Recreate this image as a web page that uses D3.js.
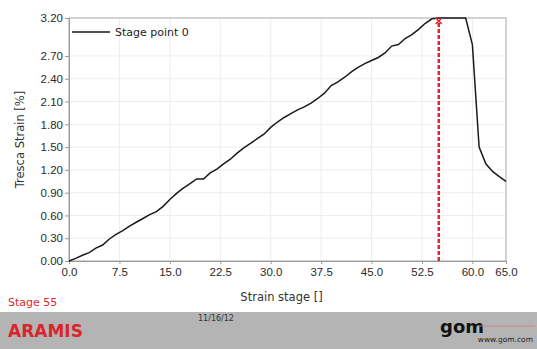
<!DOCTYPE html>
<html>
<head>
<meta charset="utf-8">
<script src="https://cdn.jsdelivr.net/npm/d3@7"></script>
<style>
  body { margin: 0; background: #fff; }
  svg { display: block; font-family: "DejaVu Sans", sans-serif; }
</style>
</head>
<body>
<div id="chart"></div>
<script>
// strain stage vs Tresca strain
const stages = d3.range(0, 66);
const tresca = [
  0.00, 0.035, 0.075, 0.11, 0.17, 0.21, 0.29, 0.35, 0.40, 0.46,
  0.51, 0.56, 0.61, 0.65, 0.72, 0.81, 0.89, 0.96, 1.02, 1.08,
  1.08, 1.16, 1.21, 1.28, 1.34, 1.42, 1.49, 1.55, 1.61, 1.67,
  1.76, 1.83, 1.89, 1.94, 1.99, 2.03, 2.08, 2.14, 2.21, 2.31,
  2.36, 2.42, 2.49, 2.55, 2.60, 2.64, 2.68, 2.74, 2.83, 2.85,
  2.93, 2.98, 3.05, 3.13, 3.19, 3.20, 3.20, 3.20, 3.20, 3.20,
  2.85, 1.50, 1.28, 1.18, 1.11, 1.05
];
const xTicks = [0, 7.5, 15, 22.5, 30, 37.5, 45, 52.5, 60, 65];
const yTicks = [0, 0.3, 0.6, 0.9, 1.2, 1.5, 1.8, 2.1, 2.4, 2.7, 3.2];
const currentStage = 55;
const seriesName = "Stage point 0";

const W = 537, H = 349;
const margin = {top: 18, right: 31, bottom: 88, left: 69};
const width = W - margin.left - margin.right;
const height = H - margin.top - margin.bottom;

const svg = d3.select("#chart").append("svg")
  .attr("width", W)
  .attr("height", H);

const g = svg.append("g")
  .attr("transform", `translate(${margin.left},${margin.top})`);

const x = d3.scaleLinear().domain([0, 65]).range([0, width]);
const y = d3.scaleLinear().domain([0, 3.2]).range([height, 0]);

// grid
g.append("g")
  .selectAll("line")
  .data(xTicks)
  .join("line")
  .attr("x1", d => x(d)).attr("x2", d => x(d))
  .attr("y1", 0).attr("y2", height)
  .attr("stroke", "#ededed");
g.append("g")
  .selectAll("line")
  .data(yTicks)
  .join("line")
  .attr("x1", 0).attr("x2", width)
  .attr("y1", d => y(d)).attr("y2", d => y(d))
  .attr("stroke", "#ededed");

// frame
g.append("rect")
  .attr("width", width).attr("height", height)
  .attr("fill", "none")
  .attr("stroke", "#b0b0b0");

// axes
const xAxis = g.append("g")
  .attr("transform", `translate(0,${height})`)
  .call(d3.axisBottom(x).tickValues(xTicks).tickFormat(d3.format(".1f")).tickSize(3).tickPadding(4));
const yAxis = g.append("g")
  .call(d3.axisLeft(y).tickValues(yTicks).tickFormat(d3.format(".2f")).tickSize(4).tickPadding(2));
[xAxis, yAxis].forEach(a => {
  a.select(".domain").attr("stroke", "#9a9a9a");
  a.selectAll(".tick line").attr("stroke", "#9a9a9a");
  a.selectAll(".tick text").attr("fill", "#2a2a2a").style("font-size", "11.5px");
});

// curve
g.append("path")
  .datum(stages.map((s, i) => [s, tresca[i]]))
  .attr("fill", "none")
  .attr("stroke", "#1a1a1a")
  .attr("stroke-width", 1.5)
  .attr("d", d3.line().x(d => x(d[0])).y(d => y(d[1])));

// current stage marker
g.append("line")
  .attr("x1", x(currentStage)).attr("x2", x(currentStage))
  .attr("y1", height).attr("y2", y(3.17))
  .attr("stroke", "#e3262a")
  .attr("stroke-width", 2.5)
  .attr("stroke-dasharray", "4,2");
g.append("path")
  .attr("transform", `translate(${x(currentStage)},${y(3.16)})`)
  .attr("d", "M-3,-3L3,3M-3,3L3,-3")
  .attr("stroke", "#e3262a")
  .attr("stroke-width", 1.5);

// legend
g.append("line")
  .attr("x1", 3).attr("x2", 41)
  .attr("y1", 14).attr("y2", 14)
  .attr("stroke", "#1a1a1a").attr("stroke-width", 1.6);
g.append("text")
  .attr("x", 46).attr("y", 18)
  .style("font-size", "11px").attr("fill", "#222")
  .text(seriesName);

// axis labels
svg.append("text")
  .attr("x", margin.left + width / 2 - 6).attr("y", 301)
  .attr("text-anchor", "middle")
  .style("font-size", "11.5px").attr("fill", "#333")
  .text("Strain stage []");
svg.append("text")
  .attr("transform", `translate(24,${margin.top + height / 2}) rotate(-90)`)
  .attr("text-anchor", "middle")
  .style("font-size", "11.5px").attr("fill", "#333")
  .text("Tresca Strain [%]");

// footer
svg.append("text")
  .attr("x", 8).attr("y", 306)
  .style("font-size", "11px").attr("fill", "#e3262a")
  .text("Stage 55");
svg.append("rect")
  .attr("x", 0).attr("y", 312).attr("width", W).attr("height", H - 312)
  .attr("fill", "#b4b4b4");
svg.append("text")
  .attr("x", 8).attr("y", 337)
  .style("font-size", "17px").style("font-weight", "bold").attr("fill", "#d9262a")
  .text("ARAMIS");
svg.append("text")
  .attr("x", 198).attr("y", 321)
  .style("font-size", "8px").attr("fill", "#333")
  .text("11/16/12");
svg.append("text")
  .attr("x", 440).attr("y", 333)
  .style("font-size", "18px").style("font-weight", "bold").attr("fill", "#111")
  .text("gom");
svg.append("line")
  .attr("x1", 478).attr("x2", 535).attr("y1", 326).attr("y2", 326)
  .attr("stroke", "#e07a7a").attr("stroke-width", 0.8);
svg.append("text")
  .attr("x", 533).attr("y", 342)
  .attr("text-anchor", "end")
  .style("font-size", "7.5px").attr("fill", "#222")
  .text("www.gom.com");
</script>
</body>
</html>
